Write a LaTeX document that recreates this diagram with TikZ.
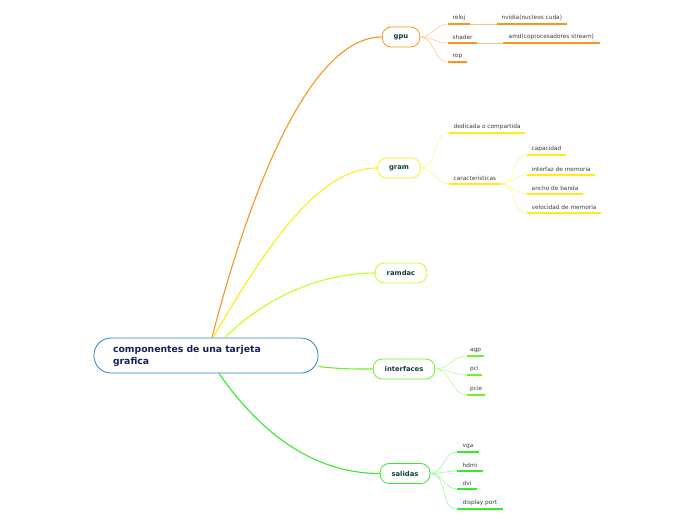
\documentclass[tikz,border=0pt]{standalone}
\usepackage{fontspec}
\setmainfont{DejaVu Sans}
\definecolor{RootC}{RGB}{40,128,200}
\definecolor{RootText}{RGB}{22,34,84}
\definecolor{TopicText}{RGB}{18,62,58}
\definecolor{LeafText}{RGB}{60,60,60}
\definecolor{GpuC}{RGB}{247,150,30}
\definecolor{GramC}{RGB}{255,236,20}
\definecolor{RamdacC}{RGB}{192,255,30}
\definecolor{InterC}{RGB}{112,240,40}
\definecolor{SalC}{RGB}{50,236,40}

\tikzset{
  root/.style={draw=RootC, line width=0.8pt, rounded corners=17pt, fill=white,
    minimum width=224pt, minimum height=35pt, text width=186pt, align=left,
    inner xsep=19pt, font=\fontsize{9.3}{12}\selectfont\bfseries, text=RootText},
  topic/.style={draw=#1, line width=0.8pt, rounded corners=9pt, fill=white,
    minimum height=20pt, inner xsep=11.5pt,
    font=\fontsize{6.8}{7}\selectfont\bfseries, text=TopicText},
  leaf/.style={anchor=south west, inner xsep=4.5pt, inner ysep=3.5pt,
    font=\fontsize{5.8}{6}\selectfont, text=LeafText},
  branch/.style={draw=#1, line width=1.1pt},
  twig/.style={draw=#1!55, line width=0.5pt},
  uline/.style={draw=#1, line width=1.3pt},
}

\begin{document}
\begin{tikzpicture}[x=1pt, y=-1pt]
  \useasboundingbox (0,0) rectangle (696,520);

  % main ideas
  \node[root] (root) at (206,355.5) {componentes de una tarjeta\\grafica};
  \node[topic=GpuC] (gpu) at (401,37) {gpu};
  \node[topic=GramC] (gram) at (399,168) {gram};
  \node[topic=RamdacC] (ramdac) at (401,273) {ramdac};
  \node[topic=InterC] (interfaces) at (404,369) {interfaces};
  \node[topic=SalC] (salidas) at (405,473.5) {salidas};

  \draw[branch=GpuC] ([xshift=6pt]root.north) .. controls (250,190) and (310,37) .. (gpu.west);
  \draw[branch=GramC] ([xshift=7pt]root.north) .. controls (270,240) and (320,168) .. (gram.west);
  \draw[branch=RamdacC] ([xshift=19pt]root.north) .. controls (262,300) and (318,273) .. (ramdac.west);
  \draw[branch=InterC] ([yshift=-11pt]root.east) .. controls (340,369) and (350,369) .. (interfaces.west);
  \draw[branch=SalC] ([xshift=13pt]root.south) .. controls (265,440) and (320,473.5) .. (salidas.west);

  % gpu
  \foreach \n/\y/\t in {reloj/24/reloj, shader/43/shader, rop/62/rop} {
    \node[leaf] (\n) at (448,\y) {\t};
    \draw[uline=GpuC] (\n.south west) -- (\n.south east);
    \draw[twig=GpuC] (gpu.east) to[out=0,in=180] (\n.south west);
  }
  \node[leaf] (nvidia) at (497,24) {nvidia(nucleos cuda)};
  \draw[uline=GpuC] (nvidia.south west) -- (nvidia.south east);
  \draw[twig=GpuC] (reloj.south east) -- (nvidia.south west);
  \node[leaf, inner xsep=5.5pt] (amd) at (503,43) {amd(coprocesadores stream)};
  \draw[uline=GpuC] (amd.south west) -- (amd.south east);
  \draw[twig=GpuC] (shader.south east) -- (amd.south west);

  % gram
  \node[leaf] (dedicada) at (449,133) {dedicada o compartida};
  \node[leaf] (caract) at (449,184) {caracteristicas};
  \foreach \n in {dedicada, caract} {
    \draw[uline=GramC] (\n.south west) -- (\n.south east);
    \draw[twig=GramC] (gram.east) to[out=0,in=180] (\n.south west);
  }
  \foreach \n/\y/\t in {capacidad/155/capacidad, interfaz/175/interfaz de memoria,
      ancho/194/ancho de banda, velocidad/213/velocidad de memoria} {
    \node[leaf] (\n) at (527,\y) {\t};
    \draw[uline=GramC] (\n.south west) -- (\n.south east);
    \draw[twig=GramC] (caract.south east) to[out=0,in=180] (\n.south west);
  }

  % interfaces
  \foreach \n/\y in {agp/356, pci/375, pcie/395} {
    \node[leaf, inner xsep=3pt] (\n) at (467,\y) {\n};
    \draw[uline=InterC] (\n.south west) -- (\n.south east);
    \draw[twig=InterC] (interfaces.east) to[out=0,in=180] (\n.south west);
  }

  % salidas
  \foreach \n/\y/\t in {vga/452/vga, hdmi/471/hdmi, dvi/489/dvi, display/509/display port} {
    \node[leaf, inner xsep=5.5pt] (\n) at (457,\y) {\t};
    \draw[uline=SalC] (\n.south west) -- (\n.south east);
    \draw[twig=SalC] (salidas.east) to[out=0,in=180] (\n.south west);
  }
\end{tikzpicture}
\end{document}
